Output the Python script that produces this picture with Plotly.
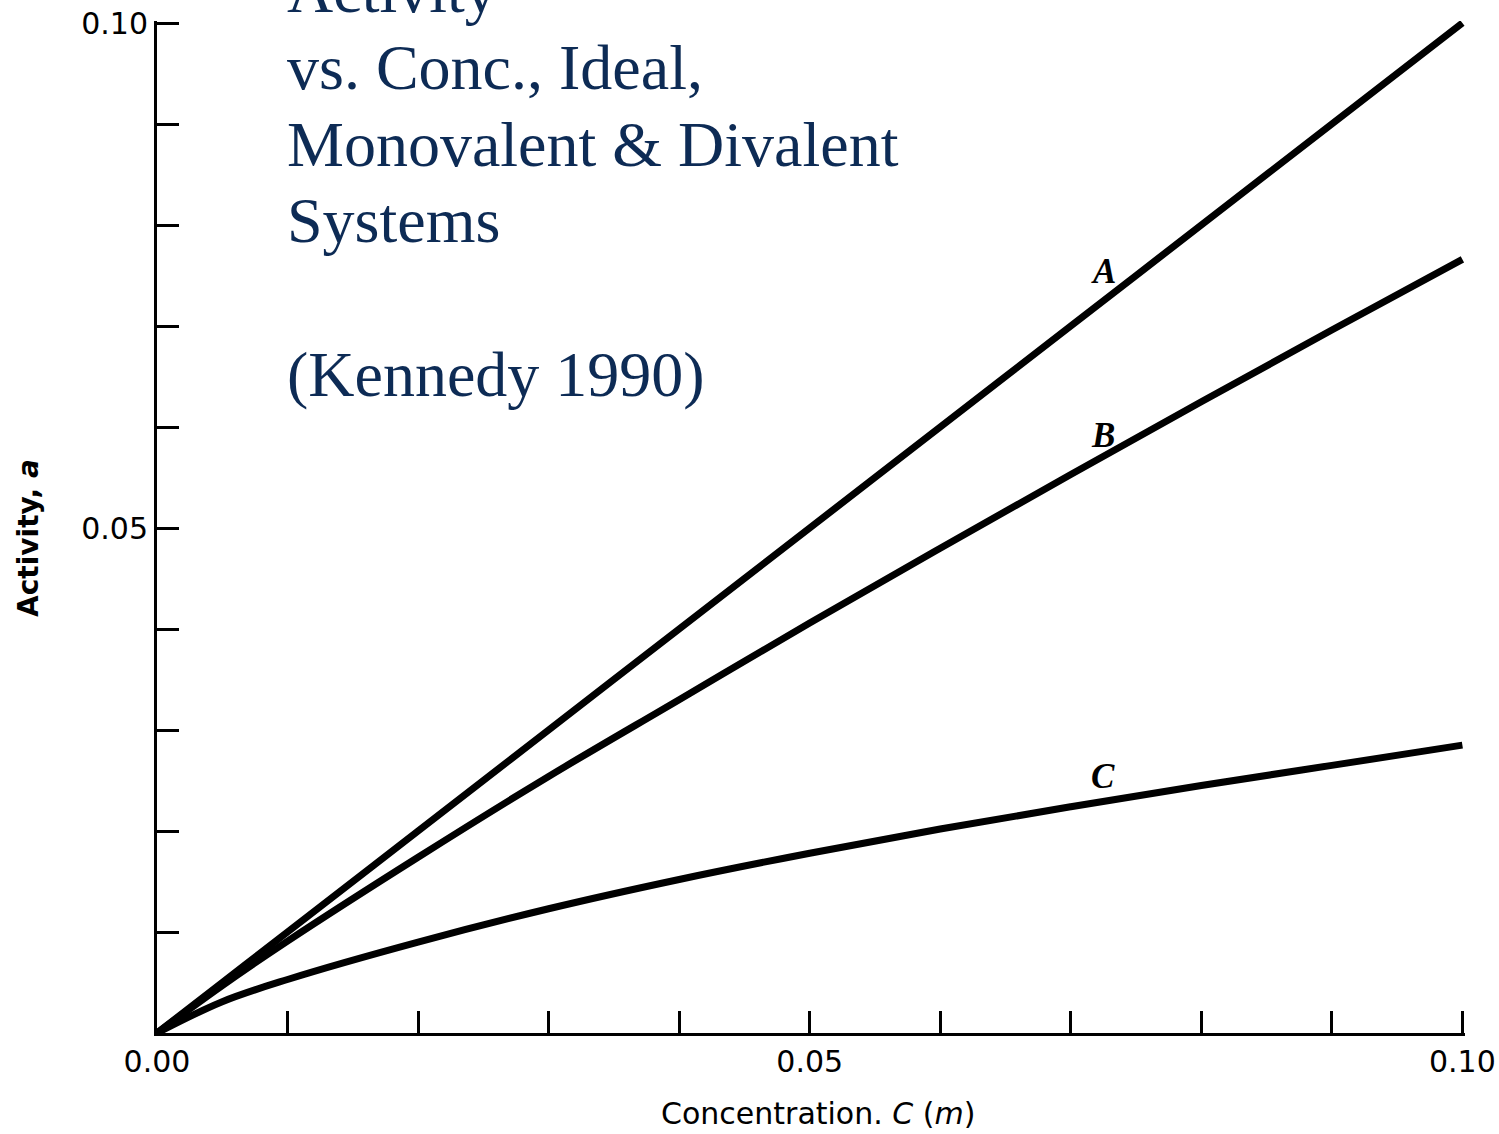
import plotly.graph_objects as go

# Concentration C (m)
conc = [0.0, 0.005, 0.01, 0.02, 0.03, 0.04, 0.05, 0.06, 0.07, 0.08, 0.09, 0.10]
# Curve A: ideal
act_A = [0.0, 0.005, 0.01, 0.02, 0.03, 0.04, 0.05, 0.06, 0.07, 0.08, 0.09, 0.10]
# Curve B: monovalent
act_B = [0.0, 0.0047, 0.0091, 0.0174, 0.0254, 0.0330, 0.0406, 0.0480, 0.0553, 0.0625, 0.0696, 0.0766]
# Curve C: divalent
act_C = [0.0, 0.0031, 0.0053, 0.0090, 0.0123, 0.0152, 0.0178, 0.0202, 0.0224, 0.0245, 0.0265, 0.0285]

tick_vals = [0.0, 0.01, 0.02, 0.03, 0.04, 0.05, 0.06, 0.07, 0.08, 0.09, 0.10]
x_tick_text = ["0.00", "", "", "", "", "0.05", "", "", "", "", "0.10"]
y_tick_text = ["", "", "", "", "", "0.05", "", "", "", "", "0.10"]

curve_labels = ["A", "B", "C"]
label_x = [0.0725, 0.0725, 0.0725]
label_y = [0.0754, 0.0592, 0.0254]

title_lines = ["Activity", "vs. Conc., Ideal,", "Monovalent &amp; Divalent", "Systems", "(Kennedy 1990)"]
title_baseline_px = [13, 90, 167, 243, 397]

fig = go.Figure()
for ys in (act_A, act_B, act_C):
    fig.add_trace(go.Scatter(x=conc, y=ys, mode="lines",
                             line=dict(color="black", width=7, shape="spline"),
                             showlegend=False, hoverinfo="skip"))

# layout geometry (pixels): 0..0.10 spans 157..1462 horizontally and 1033..23 vertically
FW, FH = 1499, 1134
X0, Y0 = 157, 1033
XSPAN, YSPAN = 1305, 1010
RMAX = 0.1002  # slightly beyond 0.10 so the end ticks are drawn
L = X0
W = XSPAN * RMAX / 0.10
H = YSPAN * RMAX / 0.10
T = Y0 - H


def px_x(px):
    return (px - L) / W


def px_y(py):
    return (Y0 - py) / H


annotations = []
for lab, lx, ly in zip(curve_labels, label_x, label_y):
    annotations.append(dict(x=lx, y=ly, xref="x", yref="y", text="<b><i>%s</i></b>" % lab,
                            showarrow=False, font=dict(family="Liberation Serif", size=35, color="black")))

navy = "#0d2b55"
for line, bpx in zip(title_lines, title_baseline_px):
    annotations.append(dict(x=px_x(285), y=px_y(bpx + 15), xref="paper", yref="paper",
                            xanchor="left", yanchor="bottom", text=line, showarrow=False,
                            font=dict(family="Liberation Serif", size=64, color=navy)))

annotations.append(dict(x=px_x(818), y=px_y(1114), xref="paper", yref="paper",
                        xanchor="center", yanchor="middle", showarrow=False,
                        text="Concentration. <i>C</i> (<i>m</i>)",
                        font=dict(family="DejaVu Sans", size=30, color="black")))
annotations.append(dict(x=px_x(28), y=px_y(538), xref="paper", yref="paper",
                        xanchor="center", yanchor="middle", showarrow=False, textangle=-90,
                        text="<b>Activity, <i>a</i></b>",
                        font=dict(family="DejaVu Sans", size=28, color="black")))

axis_common = dict(range=[0, RMAX], tickvals=tick_vals, ticks="inside", automargin=False,
                   ticklabeloverflow="allow",
                   ticklen=22, tickwidth=3, tickcolor="black", showline=True, linecolor="black",
                   linewidth=3, showgrid=False, zeroline=False,
                   tickfont=dict(family="DejaVu Sans", size=30, color="black"))

fig.update_layout(
    width=FW, height=FH,
    margin=dict(l=L, r=FW - L - W, t=T, b=FH - Y0, autoexpand=False),
    paper_bgcolor="white", plot_bgcolor="white",
    xaxis=dict(ticktext=x_tick_text, **axis_common),
    yaxis=dict(ticktext=y_tick_text, **axis_common),
    annotations=annotations,
)

fig.write_html("out.html", config={"displayModeBar": False},
               post_script="document.body.style.margin='0';document.body.style.overflow='hidden';")
